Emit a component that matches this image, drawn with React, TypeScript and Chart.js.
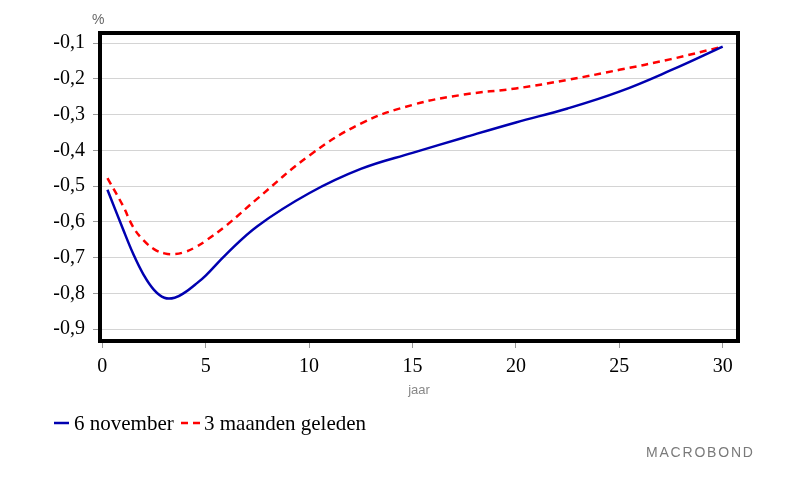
import React, { useEffect, useRef } from "react";
import { Chart, registerables } from "chart.js";

Chart.register(...registerables);

const maturities = [0.25, 1, 1.5, 2, 2.5, 3, 3.5, 4, 4.5, 5, 6, 7.5, 10, 12.5, 15, 17.5, 20, 22.5, 25, 27.5, 30];
const novemberValues = [-0.51, -0.62, -0.69, -0.748, -0.79, -0.812, -0.812, -0.797, -0.775, -0.75, -0.69, -0.612, -0.52, -0.452, -0.407, -0.364, -0.322, -0.283, -0.236, -0.176, -0.11];
const threeMonthsValues = [-0.478, -0.555, -0.615, -0.652, -0.676, -0.688, -0.69, -0.684, -0.671, -0.653, -0.61, -0.535, -0.415, -0.325, -0.273, -0.244, -0.227, -0.203, -0.175, -0.145, -0.11];
const xTicks = [0, 5, 10, 15, 20, 25, 30];
const yTicks = [-0.9, -0.8, -0.7, -0.6, -0.5, -0.4, -0.3, -0.2, -0.1];
const seriesLabels = ["6 november", "3 maanden geleden"];

const BLUE = "#0000b0";
const RED = "#ff0000";
const SERIF = "'Liberation Serif', 'Times New Roman', serif";
const SANS = "'Liberation Sans', Arial, sans-serif";

const framePlugin = {
  id: "frame",
  afterDatasetsDraw(chart: any) {
    const { ctx, chartArea } = chart;
    ctx.save();
    ctx.strokeStyle = "#000";
    ctx.lineWidth = 4;
    ctx.strokeRect(chartArea.left, chartArea.top, chartArea.right - chartArea.left, chartArea.bottom - chartArea.top);
    ctx.restore();
  },
};

export default function App() {
  const canvasRef = useRef<HTMLCanvasElement>(null);

  useEffect(() => {
    document.body.style.margin = "0";
    const canvas = canvasRef.current!;
    const chart = new Chart(canvas, {
      type: "line",
      data: {
        datasets: [
          {
            label: seriesLabels[0],
            data: maturities.map((m, i) => ({ x: m, y: novemberValues[i] })),
            borderColor: BLUE,
            borderWidth: 2.5,
            pointRadius: 0,
            fill: false,
            tension: 0.4,
          },
          {
            label: seriesLabels[1],
            data: maturities.map((m, i) => ({ x: m, y: threeMonthsValues[i] })),
            borderColor: RED,
            borderWidth: 2.5,
            borderDash: [7, 5],
            pointRadius: 0,
            fill: false,
            tension: 0.4,
          },
        ],
      },
      options: {
        responsive: false,
        animation: false,
        layout: { padding: { left: 0, top: 33, right: 59, bottom: 115 } },
        plugins: { legend: { display: false }, tooltip: { enabled: false } },
        scales: {
          x: {
            type: "linear",
            min: -0.11,
            max: 30.74,
            afterBuildTicks: (s: any) => {
              s.ticks = xTicks.map((v) => ({ value: v }));
            },
            afterFit: (s: any) => {
              s.height = 40;
            },
            ticks: {
              font: { family: SERIF, size: 20 },
              color: "#000",
              padding: 7,
              maxRotation: 0,
              autoSkip: false,
            },
            grid: { drawOnChartArea: false, drawTicks: true, tickLength: 7, tickColor: "#999" },
            border: { display: false },
          },
          y: {
            type: "linear",
            min: -0.933,
            max: -0.072,
            afterBuildTicks: (s: any) => {
              s.ticks = yTicks.map((v) => ({ value: v }));
            },
            afterFit: (s: any) => {
              s.width = 100;
            },
            ticks: {
              font: { family: SERIF, size: 20 },
              color: "#000",
              padding: 8,
              autoSkip: false,
              callback: (v: any) => Number(v).toFixed(1).replace(".", ","),
            },
            grid: { color: "#d4d4d4", lineWidth: 1, drawTicks: true, tickLength: 7, tickColor: "#999" },
            border: { display: false },
          },
        },
      },
      plugins: [framePlugin],
    });
    return () => chart.destroy();
  }, []);

  return (
    <div style={{ position: "relative", width: 797, height: 496, background: "#fff", overflow: "hidden" }}>
      <canvas ref={canvasRef} width={797} height={496} style={{ position: "absolute", left: 0, top: 0 }} />
      <div style={{ position: "absolute", left: 92, top: 11, font: `14px ${SANS}`, color: "#666" }}>%</div>
      <div style={{ position: "absolute", left: 419, top: 382, transform: "translateX(-50%)", font: `13px ${SANS}`, color: "#888" }}>jaar</div>
      <svg style={{ position: "absolute", left: 54, top: 418 }} width={16} height={10}>
        <line x1={0} y1={5} x2={15} y2={5} stroke={BLUE} strokeWidth={2.5} />
      </svg>
      <div style={{ position: "absolute", left: 74, top: 411, font: `21px ${SERIF}`, color: "#000", whiteSpace: "nowrap" }}>{seriesLabels[0]}</div>
      <svg style={{ position: "absolute", left: 181, top: 418 }} width={20} height={10}>
        <line x1={0} y1={5} x2={19} y2={5} stroke={RED} strokeWidth={2.5} strokeDasharray="7 5" />
      </svg>
      <div style={{ position: "absolute", left: 204, top: 411, font: `21px ${SERIF}`, color: "#000", whiteSpace: "nowrap" }}>{seriesLabels[1]}</div>
      <div style={{ position: "absolute", left: 646, top: 444, font: `14px ${SANS}`, letterSpacing: "1.8px", color: "#7a7a7a" }}>MACROBOND</div>
    </div>
  );
}
